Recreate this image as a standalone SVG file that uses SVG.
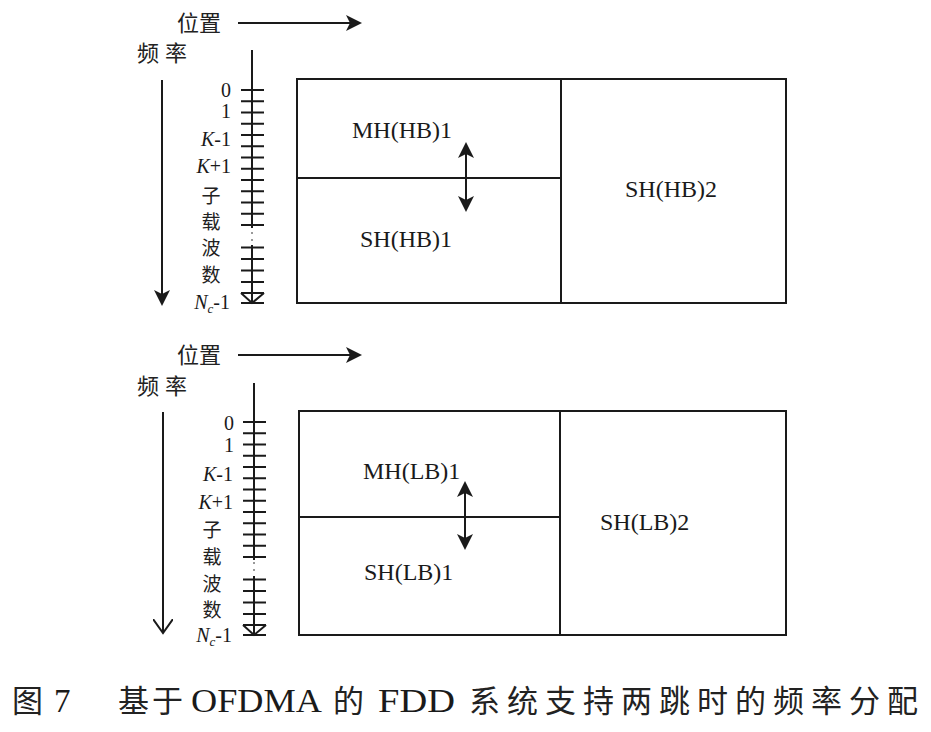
<svg xmlns="http://www.w3.org/2000/svg" width="931" height="732" viewBox="0 0 931 732">
<style>
  .ln{stroke:#1a1a1a;stroke-width:2;fill:none}
  .box{stroke:#1a1a1a;stroke-width:2;fill:none}
  .tk{stroke:#1a1a1a;stroke-width:2;fill:none}
  .lat{font-family:"Liberation Serif","Noto Sans CJK SC",serif;fill:#1a1a1a}
  .cjk{font-family:"Noto Sans CJK SC","Noto Sans CJK JP",sans-serif;fill:#222}
  .lbl{font-size:24px}
  .num{font-size:20px;text-anchor:end}
  .sub{font-size:19px;text-anchor:middle}
  .ax{font-size:22px}
  .cap{font-size:31px}
  .capl{font-family:"Liberation Serif",serif;font-size:33px;fill:#1a1a1a}
  .dot{fill:#777}
</style>
<defs>
  <marker id="ah" viewBox="0 0 16 16" refX="14" refY="8" markerWidth="16" markerHeight="16" markerUnits="userSpaceOnUse" orient="auto-start-reverse">
    <path d="M0,0 L16,8 L0,16 L4,8 Z" fill="#1a1a1a"/>
  </marker>
  <marker id="av" viewBox="0 0 16 20" refX="14" refY="10" markerWidth="16" markerHeight="20" markerUnits="userSpaceOnUse" orient="auto">
    <path d="M0,0 L14,10 L0,20" fill="none" stroke="#1a1a1a" stroke-width="2"/>
  </marker>
  <g id="ticksTop">
    <path class="tk" d="M241,90H264M241,101.25H264M241,112.5H264M241,123.75H264M241,135H264M241,146.25H264M241,157.5H264M241,168.75H264M241,180H264M241,191.25H264M241,202.5H264M241,213.75H264M241,225H264M241,247.5H264M241,259H264M241,270.5H264M241,282H264M241,293H264M241,303H264"/>
  </g>
</defs>

<!-- ===== Top panel ===== -->
<g id="top-position-label">
  <text class="cjk ax" x="177" y="31">位置</text>
</g>
<g id="top-frequency-label">
  <text class="cjk ax" x="137" y="61" letter-spacing="6">频率</text>
</g>
<g id="top-subcarrier-ruler">
  <path class="tk" d="M252,50V228M252,245V303"/>
  <use href="#ticksTop"/>
  <path class="tk" d="M241,293L252,303L264,293"/>
  <circle class="dot" cx="252" cy="233" r="1"/>
  <circle class="dot" cx="252" cy="240" r="1"/>
  <text class="lat num" x="231" y="97">0</text>
  <text class="lat num" x="231" y="118">1</text>
  <text class="lat num" x="231" y="146"><tspan font-style="italic">K</tspan>-1</text>
  <text class="lat num" x="231" y="173"><tspan font-style="italic">K</tspan>+1</text>
  <text class="cjk sub" x="211" y="203">子</text>
  <text class="cjk sub" x="211" y="229">载</text>
  <text class="cjk sub" x="211" y="255">波</text>
  <text class="cjk sub" x="211" y="282">数</text>
  <text class="lat num" x="230" y="309"><tspan font-style="italic">N</tspan><tspan font-size="13" font-style="italic" dy="4">c</tspan><tspan dy="-4">-1</tspan></text>
</g>
<g id="top-MH-HB1">
  <rect class="box" x="297" y="79" width="264" height="99"/>
  <text class="lat lbl" x="352" y="138">MH(HB)1</text>
</g>
<g id="top-SH-HB1">
  <rect class="box" x="297" y="178" width="264" height="125"/>
  <text class="lat lbl" x="360" y="247">SH(HB)1</text>
</g>
<g id="top-SH-HB2">
  <rect class="box" x="561" y="79" width="225" height="224"/>
  <text class="lat lbl" x="625" y="197">SH(HB)2</text>
</g>

<!-- ===== Bottom panel ===== -->
<g id="bottom-position-label">
  <text class="cjk ax" x="177" y="363">位置</text>
</g>
<g id="bottom-frequency-label">
  <text class="cjk ax" x="137" y="394" letter-spacing="6">频率</text>
</g>
<g id="bottom-subcarrier-ruler">
  <path class="tk" d="M254,383V560M254,576V635"/>
  <use href="#ticksTop" transform="translate(2,332)"/>
  <path class="tk" d="M243,625L254,635L266,625"/>
  <circle class="dot" cx="254" cy="563" r="1"/>
  <circle class="dot" cx="254" cy="570" r="1"/>
  <text class="lat num" x="234" y="430">0</text>
  <text class="lat num" x="234" y="452">1</text>
  <text class="lat num" x="233" y="481"><tspan font-style="italic">K</tspan>-1</text>
  <text class="lat num" x="233" y="509"><tspan font-style="italic">K</tspan>+1</text>
  <text class="cjk sub" x="212" y="537">子</text>
  <text class="cjk sub" x="212" y="564">载</text>
  <text class="cjk sub" x="212" y="591">波</text>
  <text class="cjk sub" x="212" y="617">数</text>
  <text class="lat num" x="232" y="642"><tspan font-style="italic">N</tspan><tspan font-size="13" font-style="italic" dy="4">c</tspan><tspan dy="-4">-1</tspan></text>
</g>
<g id="bottom-MH-LB1">
  <rect class="box" x="299" y="411" width="261" height="106"/>
  <text class="lat lbl" x="363" y="479">MH(LB)1</text>
</g>
<g id="bottom-SH-LB1">
  <rect class="box" x="299" y="517" width="261" height="118"/>
  <text class="lat lbl" x="364" y="580">SH(LB)1</text>
</g>
<g id="bottom-SH-LB2">
  <rect class="box" x="560" y="411" width="226" height="224"/>
  <text class="lat lbl" x="600" y="530">SH(LB)2</text>
</g>

<!-- ===== Connectors ===== -->
<g id="connectors">
  <line class="ln" x1="238" y1="23" x2="360" y2="23" marker-end="url(#ah)"/>
  <line class="ln" x1="162" y1="80" x2="162" y2="304" marker-end="url(#ah)"/>
  <line class="ln" x1="466" y1="144" x2="466" y2="210" marker-start="url(#ah)" marker-end="url(#ah)"/>
  <line class="ln" x1="238" y1="355" x2="360" y2="355" marker-end="url(#ah)"/>
  <line class="ln" x1="163" y1="412" x2="163" y2="633" marker-end="url(#av)"/>
  <line class="ln" x1="465" y1="483" x2="465" y2="548" marker-start="url(#ah)" marker-end="url(#ah)"/>
</g>

<!-- ===== Caption ===== -->
<g id="caption">
  <text class="cjk cap" x="12" y="712">图</text>
  <text class="capl" x="54" y="712">7</text>
  <text class="cjk cap" x="118" y="712" letter-spacing="3">基于</text>
  <text class="capl" x="191" y="712" textLength="131" lengthAdjust="spacingAndGlyphs">OFDMA</text>
  <text class="cjk cap" x="333" y="712">的</text>
  <text class="capl" x="378" y="712" textLength="77" lengthAdjust="spacingAndGlyphs">FDD</text>
  <text class="cjk cap" x="469" y="712" textLength="449" lengthAdjust="spacing">系统支持两跳时的频率分配</text>
</g>
</svg>
